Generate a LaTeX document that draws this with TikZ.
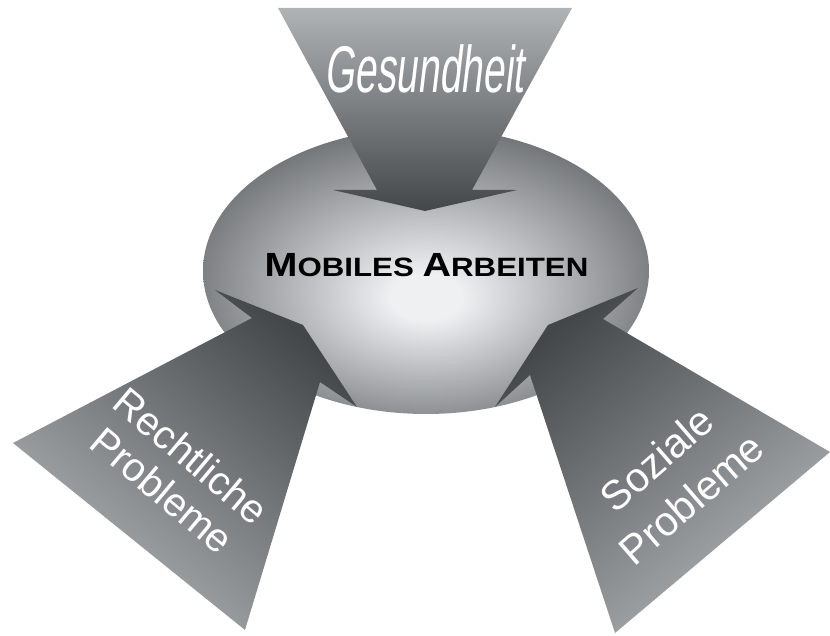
\documentclass[tikz,border=0pt]{standalone}
\usepackage{fontspec}
\setmainfont{Liberation Sans}
\usetikzlibrary{shapes.geometric}

\definecolor{hublight}{HTML}{EEF0F2}
\definecolor{hubdark}{HTML}{6F7275}
\definecolor{spokelight}{HTML}{B0B3B6}
\definecolor{spokedark}{HTML}{44474A}

\pgfdeclareradialshading{hubglow}{\pgfpoint{0bp}{-5bp}}{color(0bp)=(hublight); color(4bp)=(hublight); color(28bp)=(hubdark); color(50bp)=(hubdark)}

\newcommand{\capinit}[1]{{\fontsize{33.5}{36}\selectfont #1}}

\tikzset{
  hub/.style={ellipse, minimum width=446pt, minimum height=286pt, inner sep=0pt, shading=hubglow},
  spoke/.style={top color=spokedark, bottom color=spokelight, shading angle=#1},
  spokelabel/.style={text=white, align=center, inner sep=0pt}
}

\begin{document}
\begin{tikzpicture}[x=1pt, y=1pt]
\useasboundingbox (0,0) rectangle (830,635);

%% Mobiles Arbeiten
\draw (426,364) node[hub] (hub) {};
\draw (hub) ++ (0.5,6) node[font=\bfseries\fontsize{26.5}{30}\selectfont, xscale=1.18] (title)
  {\capinit{M}OBILES \capinit{A}RBEITEN};

%%%%%%%%%%%%%%%%%%%%%% Gesundheit

\shade[spoke=180] (278,627) -- (572,627) -- (472,445) -- (517,445) -- (425,424)
  -- (333,445) -- (377,445) -- cycle;
\draw (hub) ++ (-2,178) node[spokelabel, anchor=base, font=\fontsize{66}{70}\selectfont,
  xscale=0.59, xslant=0.2] (health) {Gesundheit};

%%%%%%%%%%%%%%%%%%%%%% Rechtliche Probleme

\shade[spoke=-40] (13,192) -- (252,317) -- (215,345) -- (303,310) -- (357,228)
  -- (320,253) -- (245,5) -- cycle;
\draw (hub) ++ (-249,-202) node[spokelabel, rotate=-40, font=\fontsize{40}{45}\selectfont]
  (legal) {Rechtliche\\Probleme};

%%%%%%%%%%%%%%%%%%%%%% Soziale Probleme

\shade[spoke=39] (603,316) -- (638,347) -- (548,310) -- (495,228) -- (530,260)
  -- (615,2) -- (830,183) -- cycle;
\draw (hub) ++ (248,-208) node[spokelabel, rotate=41, font=\fontsize{41}{53}\selectfont]
  (social) {Soziale\\Probleme};
\end{tikzpicture}
\end{document}
